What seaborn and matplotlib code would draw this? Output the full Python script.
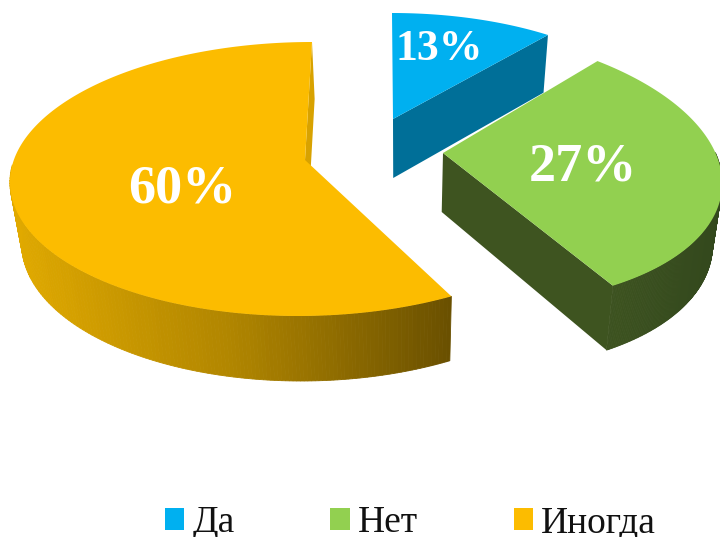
import numpy as np
import matplotlib
matplotlib.use("Agg")
import matplotlib.pyplot as plt
from matplotlib.patches import Patch
import seaborn as sns

categories = ["Да", "Нет", "Иногда"]
values = [13, 27, 60]

colors = ["#00B0F0", "#92D050", "#FCBC00"]
cut_colors = ["#006F98", "#3E5420", "#D8A200"]
rim_colors = [["#006F98", "#005A7C"], ["#3E5420", "#33481D"], ["#E0A900", "#B08500", "#6A5000"]]

# apex on screen, rim ellipse, lean and angle warp of each slice
cams = [
    dict(cx=393, cy=119, a=275, b=125, e=19, s=-1, g=-0.215, frac=0.69),
    dict(cx=443, cy=153, a=277, b=138.6, e=13, s=-35, g=-0.105, frac=0.5),
    dict(cx=305, cy=160, a=295, b=137, e=19, s=7, g=-0.09, frac=0.44),
]
depth = 61
vanish_x = 400


def project(th, cam):
    phi = th + cam["g"] * np.sin(2 * th)
    x = cam["cx"] + cam["a"] * np.sin(phi) + cam["s"] * np.cos(phi)
    y = cam["cy"] + cam["e"] - cam["b"] * np.cos(phi)
    return x, y, np.cos(phi)


def drop(x, y, v):
    return vanish_x + (x - vanish_x) * 0.97, y + depth - 4 * v


sns.set_theme(style="white")
fig = plt.figure(figsize=(7.2, 5.37), dpi=100)
ax = fig.add_axes([0, 0, 1, 1])
ax.set_xlim(0, 720)
ax.set_ylim(537, 0)
ax.axis("off")

edges = np.deg2rad(np.concatenate([[0], np.cumsum(values)]) * 3.6)

for i, cam in enumerate(cams):
    th = np.linspace(edges[i], edges[i + 1], 240)
    x, y, v = project(th, cam)
    xb, yb = drop(x, y, v)
    ax0, ay0 = cam["cx"], cam["cy"]
    bx0, by0 = drop(ax0, ay0, 0.5)

    # outer wall, shaded along x
    pal = sns.blend_palette(rim_colors[i], 101)
    lo, hi = x.min(), x.max()
    for j in range(len(th) - 1):
        if v[j] > 0.1:
            continue
        t = (x[j] - lo) / max(hi - lo, 1)
        ax.fill([x[j], x[j + 1], xb[j + 1], xb[j]], [y[j], y[j + 1], yb[j + 1], yb[j]],
                color=pal[int(t * 100)], lw=0.6)

    # the cut wall that faces us is always the last edge
    ax.fill([ax0, x[-1], xb[-1], bx0], [ay0, y[-1], yb[-1], by0], color=cut_colors[i], lw=0)

    # top face
    ax.fill(np.r_[ax0, x], np.r_[ay0, y], color=colors[i], lw=0)

    mid = (edges[i] + edges[i + 1]) / 2
    mx, my, _ = project(mid, cam)
    lx = ax0 + cam["frac"] * (mx - ax0)
    ly = ay0 + cam["frac"] * (my - ay0)
    size = 31.5 if values[i] < 20 else 39
    ax.text(lx, ly, f"{values[i]}%", color="white", fontsize=size, fontweight="bold",
            family="Liberation Serif", ha="center", va="center")

handles = [Patch(color=c, lw=0) for c in colors]
ax.legend(handles, categories, ncol=3, loc="lower left", bbox_to_anchor=(164.5 / 720, -0.006),
          frameon=False, prop={"family": "Liberation Serif", "size": 27}, borderpad=0,
          borderaxespad=0, handlelength=0.52, handleheight=0.52, handletextpad=0.22,
          columnspacing=2.55, labelcolor="#111111")

fig.savefig("out.png", dpi=100)
